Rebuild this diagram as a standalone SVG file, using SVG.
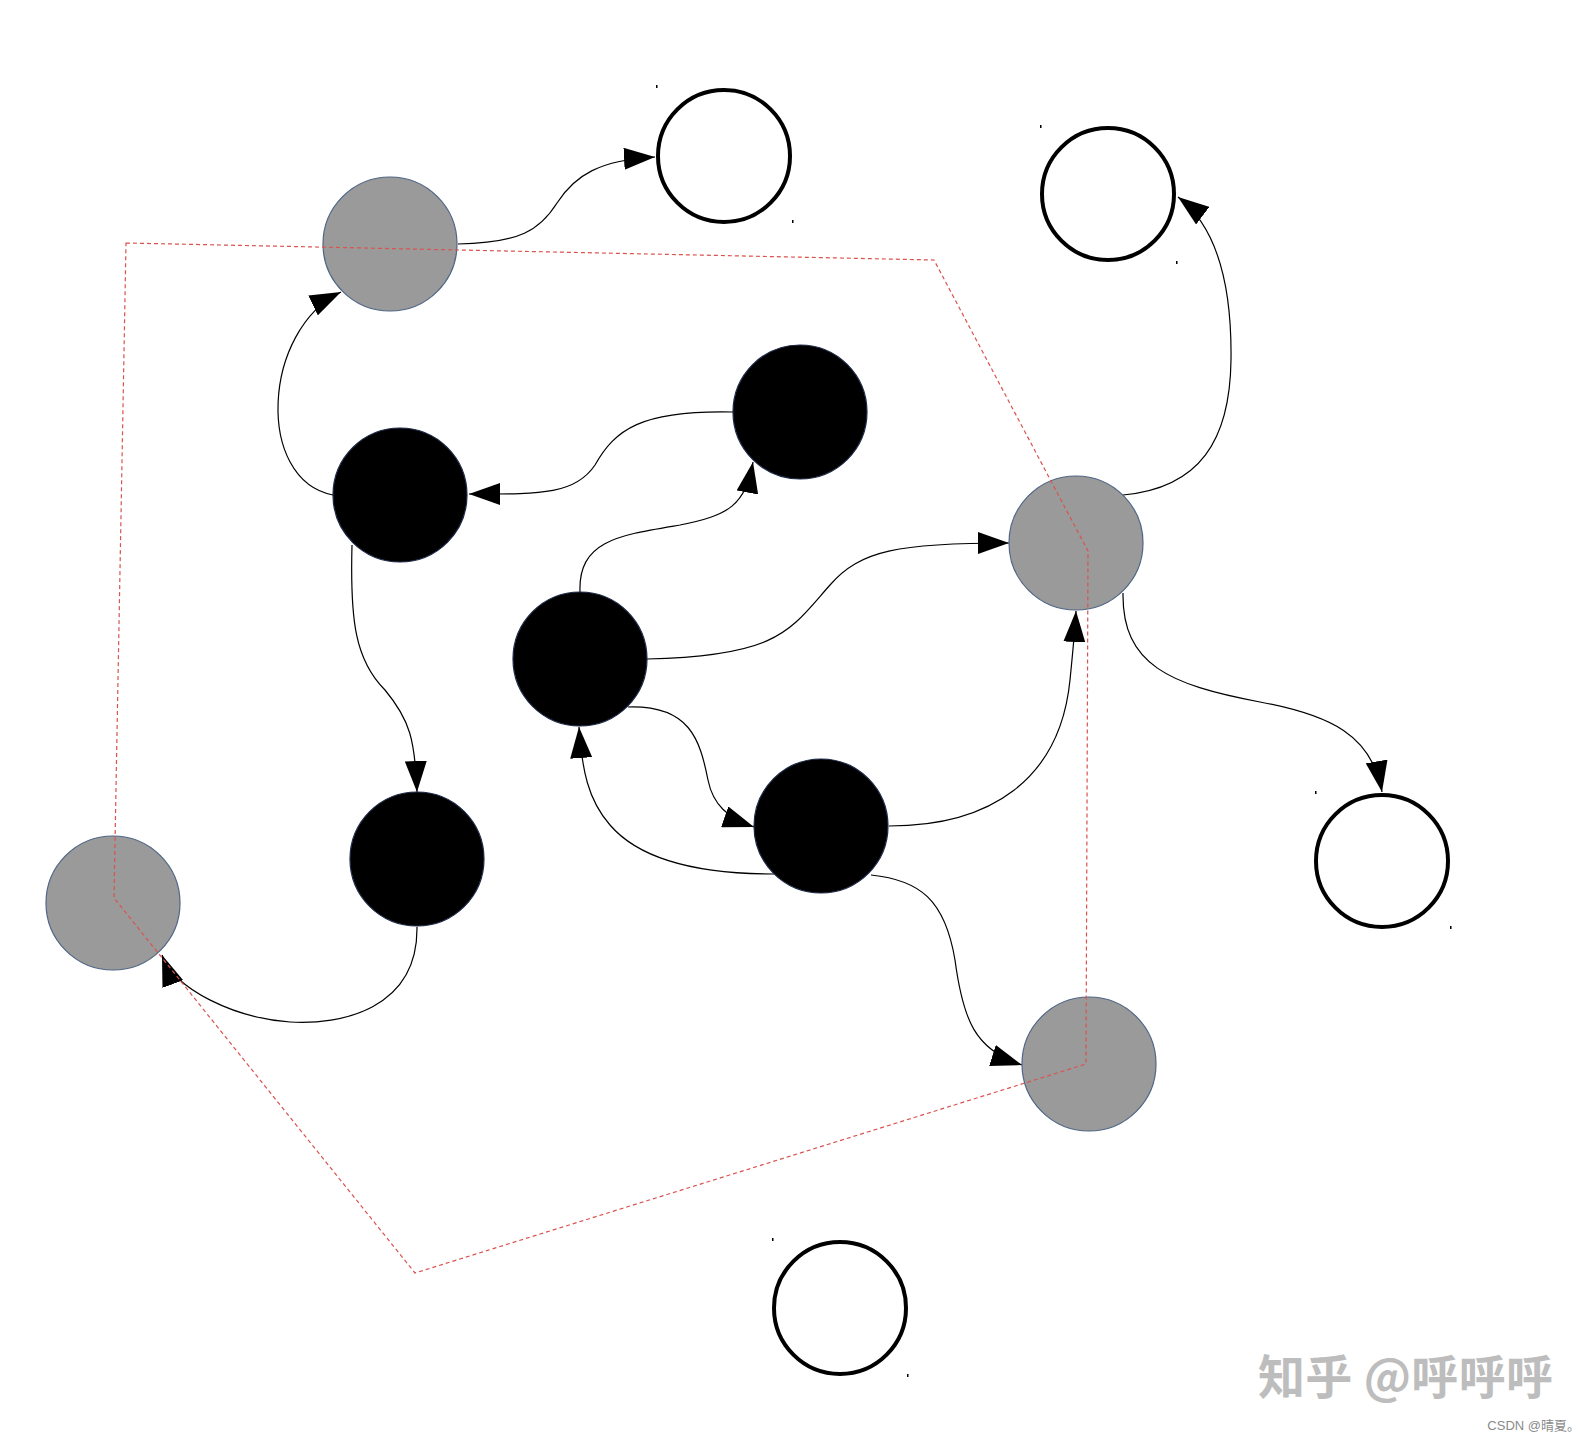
<svg xmlns="http://www.w3.org/2000/svg" width="1594" height="1440" viewBox="0 0 1594 1440">
<style>
.white{fill:#ffffff;stroke:#000000;stroke-width:4}
.gray{fill:#9a9a9a;stroke:#4f6685;stroke-width:1.2}
.black{fill:#000000;stroke:#1e2a48;stroke-width:1.2}
.edge{fill:none;stroke:#000000;stroke-width:1.2;marker-end:url(#arrow)}
.hull{fill:none;stroke:#d9534f;stroke-width:1.2;stroke-dasharray:4 3}
.tick{fill:#000000}
.wm{font-family:"Noto Sans CJK SC","Noto Sans",sans-serif;font-weight:bold;fill:#bdbdbd}
.csdn{font-family:"Liberation Sans","Noto Sans CJK SC",sans-serif;fill:#8a8a8a}
</style>
<defs>
<marker id="arrow" markerUnits="userSpaceOnUse" markerWidth="32" markerHeight="22" refX="31" refY="11" orient="auto" viewBox="0 0 32 22">
<path d="M0,0 L31,11 L0,22 z" fill="#000000"/>
</marker>
</defs>
<rect width="1594" height="1440" fill="#ffffff"/>
<g id="connectors">
<path class="edge" d="M458,244 C520,243 540,230 557,203 C575,175 600,160 655,157"/>
<path class="edge" d="M333,495 C255,480 262,330 341,292"/>
<path class="edge" d="M733,412 C640,410 615,430 595,465 C575,495 540,494 469,494"/>
<path class="edge" d="M580,592 C578,540 620,535 680,525 C730,515 745,505 753,462"/>
<path class="edge" d="M647,659 C780,656 790,630 830,585 C860,550 900,543 1009,543"/>
<path class="edge" d="M352,545 C350,620 355,660 385,690 C410,720 415,740 417,792"/>
<path class="edge" d="M417,927 C418,1010 340,1025 290,1022 C235,1018 175,990 162,955"/>
<path class="edge" d="M628,707 C690,705 700,740 708,780 C713,805 728,818 754,827"/>
<path class="edge" d="M774,874 C700,874 640,860 610,825 C588,800 582,770 579,727"/>
<path class="edge" d="M889,826 C990,826 1060,780 1070,680 C1073,650 1075,630 1076,611"/>
<path class="edge" d="M1123,495 C1200,488 1230,440 1231,360 C1232,280 1215,225 1178,197"/>
<path class="edge" d="M1123,593 C1122,665 1170,685 1260,702 C1330,715 1372,735 1382,792"/>
<path class="edge" d="M871,875 C920,880 945,900 955,960 C963,1020 975,1050 1022,1065"/>
</g>
<g id="n_white_top"><circle class="white" cx="724" cy="156" r="66"/><rect class="tick" x="656" y="85" width="1.5" height="3"/><rect class="tick" x="792" y="220" width="1.5" height="3"/></g>
<g id="n_white_tr"><circle class="white" cx="1108" cy="194" r="66"/><rect class="tick" x="1040" y="125" width="1.5" height="3"/><rect class="tick" x="1176" y="261" width="1.5" height="3"/></g>
<g id="n_white_r"><circle class="white" cx="1382" cy="861" r="66"/><rect class="tick" x="1315" y="791" width="1.5" height="3"/><rect class="tick" x="1450" y="926" width="1.5" height="3"/></g>
<g id="n_white_bottom"><circle class="white" cx="840" cy="1308" r="66"/><rect class="tick" x="772" y="1238" width="1.5" height="3"/><rect class="tick" x="907" y="1374" width="1.5" height="3"/></g>
<g id="n_gray_top"><circle class="gray" cx="390" cy="244" r="67"/></g>
<g id="n_gray_right"><circle class="gray" cx="1076" cy="543" r="67"/></g>
<g id="n_gray_left"><circle class="gray" cx="113" cy="903" r="67"/></g>
<g id="n_gray_bottom"><circle class="gray" cx="1089" cy="1064" r="67"/></g>
<g id="n_black_a"><circle class="black" cx="400" cy="495" r="67"/></g>
<g id="n_black_b"><circle class="black" cx="800" cy="412" r="67"/></g>
<g id="n_black_c"><circle class="black" cx="580" cy="659" r="67"/></g>
<g id="n_black_d"><circle class="black" cx="417" cy="859" r="67"/></g>
<g id="n_black_e"><circle class="black" cx="821" cy="826" r="67"/></g>
<g id="hull"><polygon class="hull" points="126,243 934,260 1088,551 1086,1064 415,1273 114,898"/></g>
<g id="watermark">
<text class="wm" x="1258" y="1394" font-size="47" textLength="295" lengthAdjust="spacing">知乎 @呼呼呼</text>
<text class="csdn" x="1580" y="1430" font-size="13" text-anchor="end">CSDN @晴夏。</text>
</g>
</svg>
